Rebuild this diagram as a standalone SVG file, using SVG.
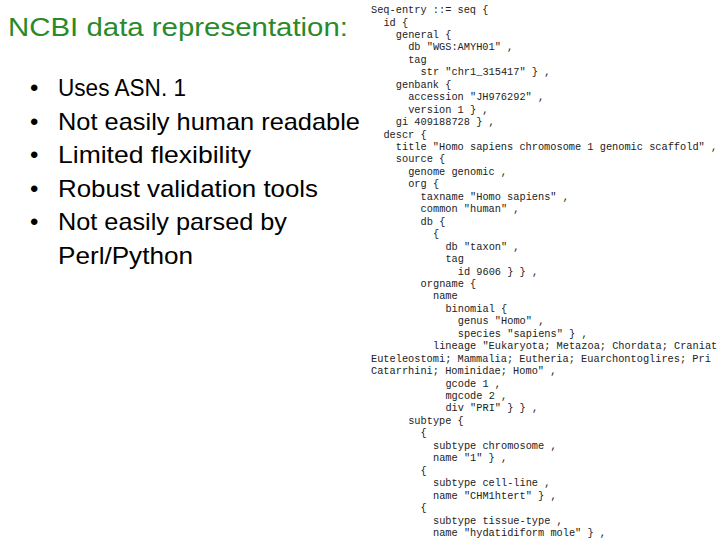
<svg xmlns="http://www.w3.org/2000/svg" width="720" height="540" viewBox="0 0 720 540">
<style>
.t{font-family:"Liberation Sans","DejaVu Sans",sans-serif;font-size:24px;fill:#000}
.c{font-family:"Liberation Mono","DejaVu Sans Mono",monospace;font-size:10.3px;fill:#222}
</style>
<rect width="720" height="540" fill="#fff"/>
<g id="title"><text x="8" y="36" font-family="Liberation Sans,sans-serif" font-size="26" fill="#2a8a2a" textLength="340" lengthAdjust="spacingAndGlyphs">NCBI data representation:</text></g>
<g id="bullets" class="t">
<text x="30" y="96">•</text><text x="58" y="96" class="t" textLength="128" lengthAdjust="spacingAndGlyphs">Uses ASN. 1</text>
<text x="30" y="130">•</text><text x="58" y="130" class="t" textLength="302" lengthAdjust="spacingAndGlyphs">Not easily human readable</text>
<text x="30" y="163">•</text><text x="58" y="163" class="t" textLength="193" lengthAdjust="spacingAndGlyphs">Limited flexibility</text>
<text x="30" y="197">•</text><text x="58" y="197" class="t" textLength="260" lengthAdjust="spacingAndGlyphs">Robust validation tools</text>
<text x="30" y="230">•</text><text x="58" y="230" class="t" textLength="229" lengthAdjust="spacingAndGlyphs">Not easily parsed by</text>
<text x="58" y="264" class="t" textLength="135" lengthAdjust="spacingAndGlyphs">Perl/Python</text>
</g>
<g id="code" class="c">
<text x="371" y="13">Seq-entry ::= seq {</text>
<text x="383.4" y="25.5">id {</text>
<text x="395.8" y="37.9">general {</text>
<text x="408.2" y="50.4">db "WGS:AMYH01" ,</text>
<text x="408.2" y="62.8">tag</text>
<text x="420.6" y="75.3">str "chr1_315417" } ,</text>
<text x="395.8" y="87.7">genbank {</text>
<text x="408.2" y="100.2">accession "JH976292" ,</text>
<text x="408.2" y="112.6">version 1 } ,</text>
<text x="395.8" y="125.1">gi 409188728 } ,</text>
<text x="383.4" y="137.5">descr {</text>
<text x="395.8" y="150">title "Homo sapiens chromosome 1 genomic scaffold" ,</text>
<text x="395.8" y="162.4">source {</text>
<text x="408.2" y="174.9">genome genomic ,</text>
<text x="408.2" y="187.3">org {</text>
<text x="420.6" y="199.8">taxname "Homo sapiens" ,</text>
<text x="420.6" y="212.2">common "human" ,</text>
<text x="420.6" y="224.7">db {</text>
<text x="433" y="237.1">{</text>
<text x="445.4" y="249.6">db "taxon" ,</text>
<text x="445.4" y="262">tag</text>
<text x="457.8" y="274.5">id 9606 } } ,</text>
<text x="420.6" y="286.9">orgname {</text>
<text x="433" y="299.4">name</text>
<text x="445.4" y="311.8">binomial {</text>
<text x="457.8" y="324.3">genus "Homo" ,</text>
<text x="457.8" y="336.7">species "sapiens" } ,</text>
<text x="433" y="349.2">lineage "Eukaryota; Metazoa; Chordata; Craniat</text>
<text x="371" y="361.6">Euteleostomi; Mammalia; Eutheria; Euarchontoglires; Pri</text>
<text x="371" y="374.1">Catarrhini; Hominidae; Homo" ,</text>
<text x="445.4" y="386.5">gcode 1 ,</text>
<text x="445.4" y="399">mgcode 2 ,</text>
<text x="445.4" y="411.4">div "PRI" } } ,</text>
<text x="408.2" y="423.9">subtype {</text>
<text x="420.6" y="436.3">{</text>
<text x="433" y="448.8">subtype chromosome ,</text>
<text x="433" y="461.2">name "1" } ,</text>
<text x="420.6" y="473.7">{</text>
<text x="433" y="486.1">subtype cell-line ,</text>
<text x="433" y="498.6">name "CHM1htert" } ,</text>
<text x="420.6" y="511">{</text>
<text x="433" y="523.5">subtype tissue-type ,</text>
<text x="433" y="535.9">name "hydatidiform mole" } ,</text>
</g>
</svg>
